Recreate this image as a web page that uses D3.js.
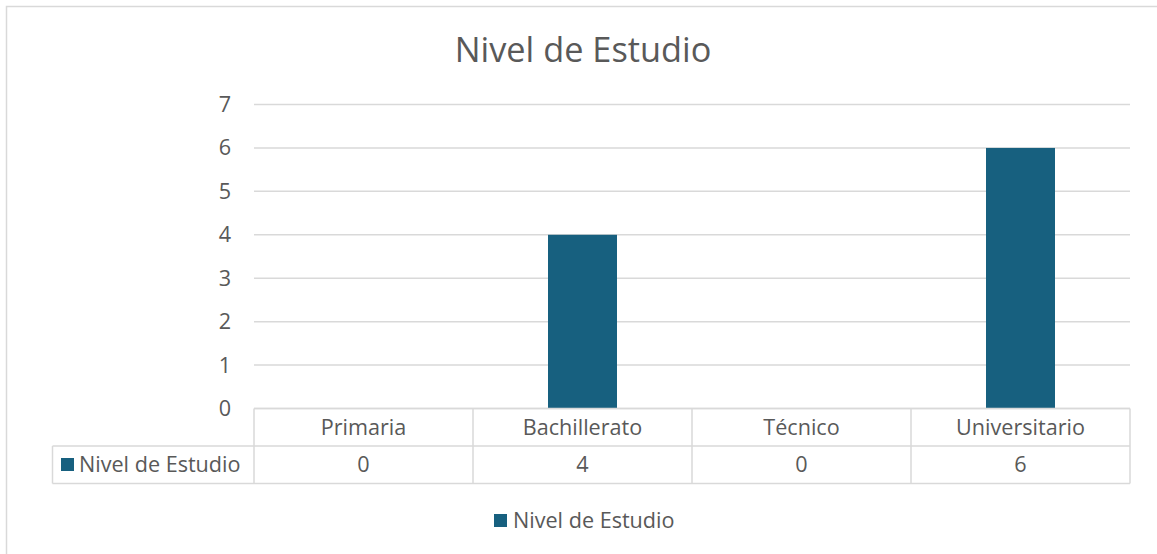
<!DOCTYPE html>
<html>
<head>
    <meta charset="utf-8">
    <script src="https://cdn.jsdelivr.net/npm/d3@7"></script>
    <style>
        body { margin: 0; background: #fff; }
        text { font-family: "Open Sans", sans-serif; fill: #595959; }
    </style>
</head>
<body>
    <div id="viz"></div>
    <script>
    //Data
    var categories = ["Primaria", "Bachillerato", "Técnico", "Universitario"];
    var values = [0, 4, 0, 6];
    var seriesName = "Nivel de Estudio";
    var yTicks = [0, 1, 2, 3, 4, 5, 6, 7];

    var width = 1157, height = 554;
    var color = "#17607f";
    var gridColor = "#d9d9d9";
    var labelSize = "21.6px";

    var svg = d3.select("#viz").append("svg")
        .attr("width", width)
        .attr("height", height);

    //Chart border
    svg.append("rect")
        .attr("x", 6.5).attr("y", 6.5)
        .attr("width", width).attr("height", height)
        .attr("fill", "none")
        .attr("stroke", gridColor)
        .attr("stroke-width", 1.5);

    //Title
    svg.append("text")
        .attr("x", 583).attr("y", 62)
        .attr("text-anchor", "middle")
        .style("font-size", "34.3px")
        .text(seriesName);

    //Plot area
    var plotLeft = 254, plotRight = 1130, plotTop = 104.5, plotBottom = 408.5;

    var x = d3.scaleBand()
        .domain(categories)
        .range([plotLeft, plotRight])
        .paddingInner(0)
        .paddingOuter(0);

    var y = d3.scaleLinear()
        .domain([0, 7])
        .range([plotBottom, plotTop]);

    //Gridlines
    svg.append("g").selectAll("line")
        .data(yTicks)
        .enter().append("line")
        .attr("x1", plotLeft).attr("x2", plotRight)
        .attr("y1", function(d) { return y(d); })
        .attr("y2", function(d) { return y(d); })
        .attr("stroke", gridColor)
        .attr("stroke-width", 1.5);

    //Y labels
    svg.append("g").selectAll("text")
        .data(yTicks)
        .enter().append("text")
        .attr("x", 231)
        .attr("y", function(d) { return y(d); })
        .attr("dy", "0.35em")
        .attr("text-anchor", "end")
        .style("font-size", labelSize)
        .text(function(d) { return d; });

    //Bars
    var barW = x.bandwidth() * 0.315;
    svg.append("g").selectAll("rect")
        .data(values)
        .enter().append("rect")
        .attr("x", function(d, i) { return x(categories[i]) + (x.bandwidth() - barW) / 2; })
        .attr("y", function(d) { return y(d); })
        .attr("width", barW)
        .attr("height", function(d) { return plotBottom - y(d); })
        .attr("fill", color);

    //Data table
    var rowTop = 408.5, rowMid = 446, rowBot = 483.5, tableLeft = 52.5;
    var table = svg.append("g")
        .attr("stroke", gridColor)
        .attr("stroke-width", 1.5);

    table.append("line").attr("x1", plotLeft).attr("x2", plotRight).attr("y1", rowTop).attr("y2", rowTop);
    table.append("line").attr("x1", tableLeft).attr("x2", plotRight).attr("y1", rowMid).attr("y2", rowMid);
    table.append("line").attr("x1", tableLeft).attr("x2", plotRight).attr("y1", rowBot).attr("y2", rowBot);
    table.append("line").attr("x1", tableLeft).attr("x2", tableLeft).attr("y1", rowMid).attr("y2", rowBot);
    table.selectAll(".v")
        .data(categories.concat([null]))
        .enter().append("line")
        .attr("x1", function(d, i) { return i < categories.length ? x(d) : plotRight; })
        .attr("x2", function(d, i) { return i < categories.length ? x(d) : plotRight; })
        .attr("y1", rowTop).attr("y2", rowBot);

    //Category labels
    svg.append("g").selectAll("text")
        .data(categories)
        .enter().append("text")
        .attr("x", function(d) { return x(d) + x.bandwidth() / 2; })
        .attr("y", (rowTop + rowMid) / 2)
        .attr("dy", "0.35em")
        .attr("text-anchor", "middle")
        .style("font-size", labelSize)
        .text(function(d) { return d; });

    //Value labels
    svg.append("g").selectAll("text")
        .data(values)
        .enter().append("text")
        .attr("x", function(d, i) { return x(categories[i]) + x.bandwidth() / 2; })
        .attr("y", (rowMid + rowBot) / 2)
        .attr("dy", "0.35em")
        .attr("text-anchor", "middle")
        .style("font-size", labelSize)
        .text(function(d) { return d; });

    //Series key in table
    svg.append("rect")
        .attr("x", 61).attr("y", 458)
        .attr("width", 13).attr("height", 13)
        .attr("fill", color);
    svg.append("text")
        .attr("x", 79).attr("y", (rowMid + rowBot) / 2)
        .attr("dy", "0.35em")
        .style("font-size", labelSize)
        .text(seriesName);

    //Legend
    svg.append("rect")
        .attr("x", 494).attr("y", 514)
        .attr("width", 13).attr("height", 13)
        .attr("fill", color);
    svg.append("text")
        .attr("x", 513).attr("y", 520.5)
        .attr("dy", "0.35em")
        .style("font-size", labelSize)
        .text(seriesName);
    </script>
</body>
</html>
